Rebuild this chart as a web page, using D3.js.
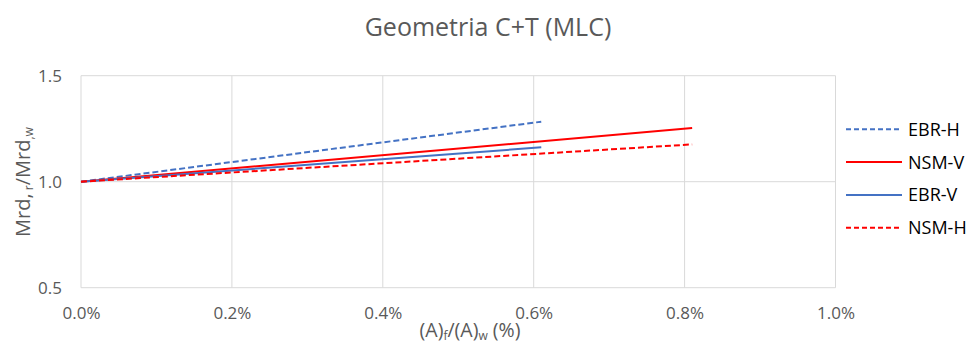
<!DOCTYPE html>
<html><head><meta charset="utf-8">
<script src="https://cdn.jsdelivr.net/npm/d3@7"></script>
<style>body{margin:0;background:#fff;} text{font-family:"Open Sans","Noto Sans",sans-serif;}</style>
</head><body>
<svg id="c" width="973" height="347"></svg>
<script>
const xTicks = [0, 0.2, 0.4, 0.6, 0.8, 1.0];
const yTicks = [0.5, 1.0, 1.5];
const seriesNames = ["EBR-H", "NSM-V", "EBR-V", "NSM-H"];
const ebrH = [[0, 1.0], [0.61, 1.283]];
const nsmV = [[0, 1.0], [0.81, 1.253]];
const ebrV = [[0, 1.0], [0.61, 1.162]];
const nsmH = [[0, 1.0], [0.81, 1.176]];

const styles = {
  "EBR-H": {color: "#4472C4", dash: "6,3"},
  "NSM-V": {color: "#FF0000", dash: null},
  "EBR-V": {color: "#4472C4", dash: null},
  "NSM-H": {color: "#FF0000", dash: "6,3"}
};
const data = {"EBR-H": ebrH, "NSM-V": nsmV, "EBR-V": ebrV, "NSM-H": nsmH};

const svg = d3.select("#c");
const x = d3.scaleLinear().domain([0, 1.0]).range([81, 835.5]);
const y = d3.scaleLinear().domain([0.5, 1.5]).range([287.7, 75.7]);

svg.append("g").selectAll("line").data(xTicks).join("line")
  .attr("x1", d => x(d)).attr("x2", d => x(d)).attr("y1", y(1.5)).attr("y2", y(0.5))
  .attr("stroke", "#d9d9d9").attr("stroke-width", 1);
svg.append("g").selectAll("line").data(yTicks).join("line")
  .attr("x1", x(0)).attr("x2", x(1.0)).attr("y1", d => y(d)).attr("y2", d => y(d))
  .attr("stroke", "#d9d9d9").attr("stroke-width", 1);

const xAxis = svg.append("g").attr("transform", `translate(0,${y(0.5)})`)
  .call(d3.axisBottom(x).tickValues(xTicks).tickSize(0).tickPadding(19).tickFormat(d => d.toFixed(1) + "%"));
xAxis.select(".domain").remove();
xAxis.selectAll("text").attr("font-size", 17).attr("fill", "#595959").attr("font-family", "Open Sans");

const yAxis = svg.append("g").attr("transform", `translate(${x(0)},0)`)
  .call(d3.axisLeft(y).tickValues(yTicks).tickSize(0).tickPadding(19).tickFormat(d3.format(".1f")));
yAxis.select(".domain").remove();
yAxis.selectAll("text").attr("font-size", 17).attr("fill", "#595959").attr("font-family", "Open Sans");

const line = d3.line().x(d => x(d[0])).y(d => y(d[1]));
seriesNames.forEach(n => {
  svg.append("path").datum(data[n]).attr("d", line)
    .attr("fill", "none").attr("stroke", styles[n].color).attr("stroke-width", 2)
    .attr("stroke-dasharray", styles[n].dash);
});

svg.append("text").attr("x", 488).attr("y", 36).attr("text-anchor", "middle")
  .attr("font-size", 25).attr("fill", "#595959").text("Geometria C+T (MLC)");

const xl = svg.append("text").attr("x", 470).attr("y", 337).attr("text-anchor", "middle")
  .attr("font-size", 19.5).attr("fill", "#595959");
xl.append("tspan").text("(A)");
xl.append("tspan").attr("font-size", 12).attr("dy", 3).text("f");
xl.append("tspan").attr("dy", -3).text("/(A)");
xl.append("tspan").attr("font-size", 12).attr("dy", 3).text("w");
xl.append("tspan").attr("dy", -3).text(" (%)");

const yl = svg.append("text").attr("transform", "translate(30,182) rotate(-90)")
  .attr("text-anchor", "middle").attr("font-size", 20).attr("fill", "#595959");
yl.append("tspan").text("Mrd,");
yl.append("tspan").attr("font-size", 12).attr("dy", 3).text(" r");
yl.append("tspan").attr("dy", -3).text("/Mrd");
yl.append("tspan").attr("font-size", 12).attr("dy", 3).text(",w");

const lg = svg.append("g");
seriesNames.forEach((n, i) => {
  const yy = 129.3 + i * 32.8;
  lg.append("line").attr("x1", 846).attr("x2", 902).attr("y1", yy).attr("y2", yy)
    .attr("stroke", styles[n].color).attr("stroke-width", 2)
    .attr("stroke-dasharray", styles[n].dash ? "5,3" : null);
  lg.append("text").attr("x", 908).attr("y", yy + 6.5).attr("font-size", 18)
    .attr("fill", "#000").text(n);
});
</script>
</body></html>
